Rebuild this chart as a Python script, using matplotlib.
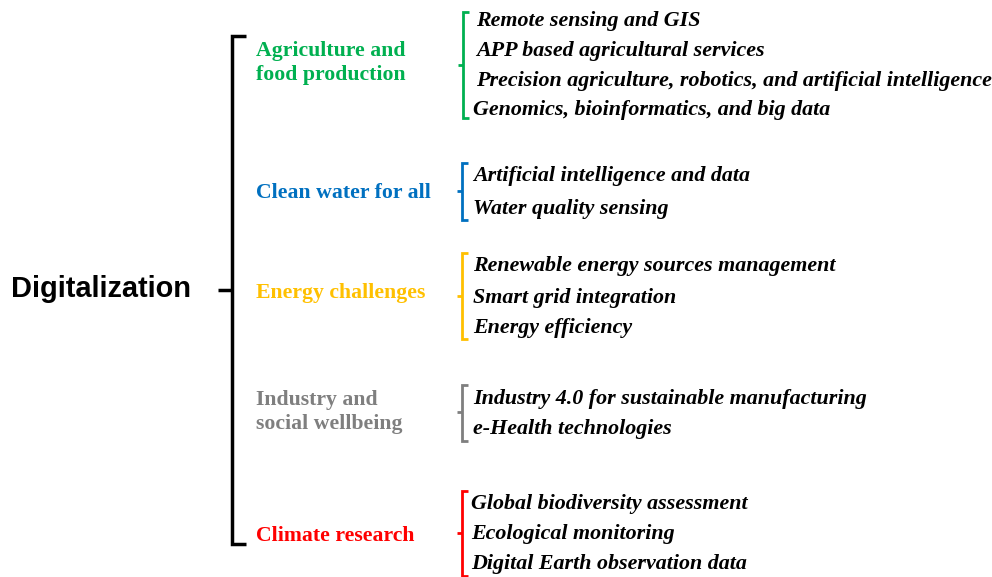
import matplotlib
matplotlib.use("Agg")
import matplotlib.pyplot as plt

root_label = "Digitalization"
categories = ["Agriculture and\nfood production", "Clean water for all", "Energy challenges",
              "Industry and\nsocial wellbeing", "Climate research"]
category_colors = ["#00B050", "#0070C0", "#FFC000", "#7F7F7F", "#FF0000"]
items = [
    ["Remote sensing and GIS", "APP based agricultural services",
     "Precision agriculture, robotics, and artificial intelligence",
     "Genomics, bioinformatics, and big data"],
    ["Artificial intelligence and data", "Water quality sensing"],
    ["Renewable energy sources management", "Smart grid integration", "Energy efficiency"],
    ["Industry 4.0 for sustainable manufacturing", "e-Health technologies"],
    ["Global biodiversity assessment", "Ecological monitoring", "Digital Earth observation data"],
]

# layout (pixel coordinates)
cat_y = [63, 193, 293, 412, 536]
cat_ha_x = 256
item_ys = [[21, 51, 81, 110], [176, 209], [266, 298, 328], [399, 429], [504, 534, 564]]
item_x = [[476, 476, 476, 473], [473, 473], [473, 473, 473], [473, 473], [471, 471, 471]]
brackets = [(463, 12, 118, 65), (462, 163, 220, 191), (462, 253, 339, 296),
            (462, 385, 441, 412), (462, 491, 576, 533)]

fig = plt.figure(figsize=(9.92, 5.77), dpi=100)
ax = fig.add_axes([0, 0, 1, 1])
ax.set_xlim(0, 992)
ax.set_ylim(577, 0)
ax.axis("off")

# root
ax.text(11, 289, root_label, fontsize=20.9, fontweight="bold", family="Liberation Sans",
        va="center", ha="left", color="black")

# main bracket
ax.plot([246, 232, 232, 246], [36, 36, 544, 544], color="black", lw=2.5,
        solid_joinstyle="miter", solid_capstyle="butt")
ax.plot([218, 232], [290, 290], color="black", lw=2.5, solid_capstyle="butt")

for i, (cat, col, cy, ys, xs, br) in enumerate(zip(categories, category_colors, cat_y,
                                                    item_ys, item_x, brackets)):
    ax.text(cat_ha_x, cy, cat, fontsize=15.7, fontweight="bold", family="Liberation Serif",
            color=col, va="center", ha="left", linespacing=1.3)
    bx, y0, y1, ym = br
    ax.plot([bx + 6, bx, bx, bx + 6], [y0, y0, y1, y1], color=col, lw=2,
            solid_joinstyle="miter", solid_capstyle="butt")
    ax.plot([bx - 5, bx], [ym, ym], color=col, lw=2, solid_capstyle="butt")
    for it, y, x in zip(items[i], ys, xs):
        ax.text(x, y, it, fontsize=15.8, fontweight="bold", fontstyle="italic",
                family="Liberation Serif", color="black", va="center", ha="left")

fig.savefig("out.png", dpi=100)
